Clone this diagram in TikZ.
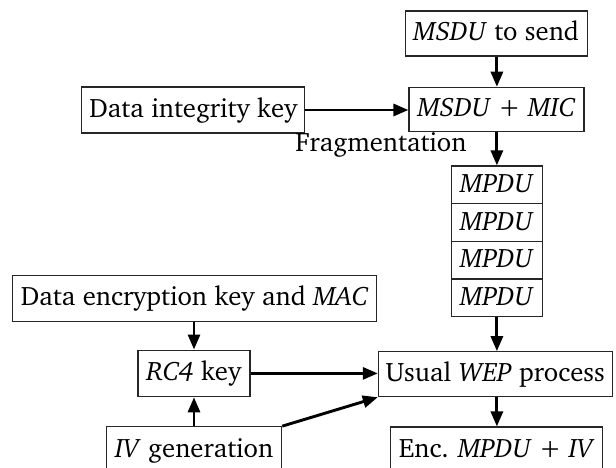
\documentclass[tikz,border=0pt]{standalone}
\usepackage[T1]{fontenc}
\usepackage{charter}
\usetikzlibrary{arrows.meta}
\begin{document}
\begin{tikzpicture}[x=1pt,y=-1pt,
  txt/.style={inner sep=0pt,font=\fontsize{26.7}{31}\selectfont},
  box/.style={txt,draw=black!85,line width=1.1pt,text height=18pt,text depth=3pt},
  cell/.style={box,minimum width=91.7pt,minimum height=37.67pt},
  flow/.style={line width=2.9pt,-{Triangle[length=15pt,width=12pt]}}]
\useasboundingbox (0,0) rectangle (616,468);
% message path
\node[box,minimum width=182pt,minimum height=45pt] (send) at (496.2,33.5) {\textit{MSDU} to send};
\node[box,minimum width=175pt,minimum height=44.4pt] (mic) at (496.5,109.5) {\textit{MSDU} + \textit{MIC}};
\node[box,minimum width=223pt,minimum height=46pt] (integ) at (193.4,110) {Data integrity key};
\node[txt,anchor=base east] (frag) at (466.7,152) {Fragmentation};
% fragments
\node[cell] (p1) at (496.9,184.8) {\textit{MPDU}};
\node[cell] (p2) at (496.9,222.5) {\textit{MPDU}};
\node[cell] (p3) at (496.9,260.2) {\textit{MPDU}};
\node[cell] (p4) at (496.9,297.8) {\textit{MPDU}};
% key material
\node[box,minimum width=364pt,minimum height=46.7pt] (enc) at (194.7,298.4) {Data encryption key and \textit{MAC}};
\node[box,minimum width=112pt,minimum height=46.7pt] (rc4) at (194,373.4) {\textit{RC4} key};
\node[box,minimum width=175pt,minimum height=45.6pt] (iv) at (194.2,449.5) {\textit{IV} generation};
% encryption
\node[box,minimum width=233.7pt,minimum height=45pt] (wep) at (495.2,374.2) {Usual \textit{WEP} process};
\node[box,minimum width=212pt,minimum height=45.6pt] (out) at (496.7,449.8) {Enc. \textit{MPDU} + \textit{IV}};
% connectors
\draw[flow] (send.south -| p1) -- (mic.north -| p1);
\draw[flow] (integ) -- (mic.west |- integ);
\draw[flow] (mic.south -| p1) -- (p1.north);
\draw[flow] (p4.south) -- (wep.north -| p4);
\draw[flow] (enc.south -| rc4) -- (rc4.north);
\draw[flow] (iv.north -| rc4) -- (rc4.south);
\draw[flow] (rc4) -- (wep.west |- rc4);
\draw[flow] (iv.north east) -- (wep.south west);
\draw[flow] (wep.south -| p4) -- (out.north -| p4);
\end{tikzpicture}
\end{document}
